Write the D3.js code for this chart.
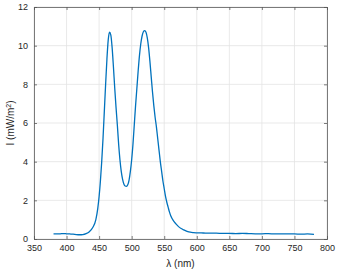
<!DOCTYPE html>
<html>
<head>
<meta charset="utf-8">
<script src="https://cdn.jsdelivr.net/npm/d3@7"></script>
<style>
  body { margin: 0; background: #fff; }
  svg text { font-family: "Liberation Sans", Arial, sans-serif; fill: #262626; }
</style>
</head>
<body>
<div id="canvas"></div>
<script>
// spectrum
var wavelength = [380, 385, 390, 395, 400, 405, 410, 415, 420, 425, 430, 435, 440, 445, 448,
  450, 452, 454, 456, 458, 460, 462, 464, 466, 468, 470, 472, 474, 476, 478, 480, 482, 484,
  486, 488, 490, 492, 494, 496, 498, 500, 502, 504, 506, 508, 510, 512, 514, 516, 518, 520,
  522, 524, 526, 528, 530, 532, 534, 536, 538, 540, 542, 544, 546, 548, 550, 552, 554, 556,
  558, 560, 564, 568, 572, 576, 580, 585, 590, 595, 600, 610, 620, 630, 640, 650, 660, 670,
  680, 690, 700, 710, 720, 730, 740, 750, 760, 770, 780];
var intensity = [0.27, 0.27, 0.27, 0.28, 0.27, 0.26, 0.25, 0.23, 0.22, 0.23, 0.28, 0.38, 0.58, 1.0, 1.6,
  2.2, 3.0, 4.0, 5.2, 6.6, 8.0, 9.3, 10.3, 10.7, 10.55, 9.9, 8.9, 7.8, 6.8, 5.9, 4.9, 4.1, 3.5,
  3.1, 2.85, 2.74, 2.72, 2.8, 3.05, 3.5, 4.1, 4.9, 5.9, 6.9, 7.8, 8.7, 9.5, 10.1, 10.5, 10.72, 10.78,
  10.7, 10.4, 9.9, 9.2, 8.4, 7.6, 6.9, 6.3, 5.8, 5.2, 4.6, 4.0, 3.5, 3.0, 2.6, 2.2, 1.9, 1.65,
  1.4, 1.2, 0.95, 0.78, 0.64, 0.54, 0.47, 0.4, 0.35, 0.33, 0.32, 0.31, 0.3, 0.3, 0.29, 0.29, 0.28, 0.29,
  0.28, 0.27, 0.27, 0.28, 0.26, 0.27, 0.26, 0.26, 0.25, 0.26, 0.24];
var xTicks = [350, 400, 450, 500, 550, 600, 650, 700, 750, 800];
var yTicks = [0, 2, 4, 6, 8, 10, 12];

var W = 337, H = 272;
var m = {t: 7, r: 10, b: 33, l: 34};
var w = W - m.l - m.r, h = H - m.t - m.b;

var svg = d3.select('#canvas').append('svg')
  .attr('width', W).attr('height', H);
var plot = svg.append('g')
  .attr('transform', 'translate(' + m.l + ',' + m.t + ')');

var x = d3.scaleLinear().domain([350, 800]).range([0, w]);
var y = d3.scaleLinear().domain([0, 12]).range([h, 0]);

// grid
plot.append('g').selectAll('line').data(xTicks).enter().append('line')
  .attr('x1', d => x(d)).attr('x2', d => x(d)).attr('y1', 0).attr('y2', h)
  .attr('stroke', '#e3e3e3').attr('stroke-width', 0.8);
plot.append('g').selectAll('line').data(yTicks).enter().append('line')
  .attr('y1', d => y(d)).attr('y2', d => y(d)).attr('x1', 0).attr('x2', w)
  .attr('stroke', '#e3e3e3').attr('stroke-width', 0.8);

// curve
var pts = wavelength.map((d, i) => [d, intensity[i]]);
var line = d3.line()
  .x(d => x(d[0]))
  .y(d => y(d[1]))
  .curve(d3.curveMonotoneX);
plot.append('path')
  .datum(pts)
  .attr('d', line)
  .attr('fill', 'none')
  .attr('stroke', '#0072BD')
  .attr('stroke-width', 1.3);

// axes
var axX = d3.axisBottom(x).tickValues(xTicks).tickSize(-3).tickPadding(6);
var axY = d3.axisLeft(y).tickValues(yTicks).tickSize(-3).tickPadding(6);
var axXt = d3.axisTop(x).tickValues(xTicks).tickSize(-3).tickFormat('');
var axYr = d3.axisRight(y).tickValues(yTicks).tickSize(-3).tickFormat('');

function style(g) {
  g.selectAll('path, line').attr('stroke', '#5a5a5a').attr('stroke-width', 0.8);
  g.selectAll('text').attr('font-size', 9).attr('fill', '#262626')
    .attr('font-family', '"Liberation Sans", Arial, sans-serif');
}
plot.append('g').attr('transform', 'translate(0,' + h + ')').call(axX).call(style);
plot.append('g').call(axY).call(style);
plot.append('g').call(axXt).call(style);
plot.append('g').attr('transform', 'translate(' + w + ',0)').call(axYr).call(style);

// labels
svg.append('text')
  .attr('x', m.l + w / 2).attr('y', 267)
  .attr('text-anchor', 'middle').attr('font-size', 10)
  .text('λ (nm)');

svg.append('text')
  .attr('transform', 'translate(14,' + (m.t + h / 2) + ') rotate(-90)')
  .attr('text-anchor', 'middle').attr('font-size', 10)
  .html('I (mW/m<tspan baseline-shift="super" font-size="7">2</tspan>)');
</script>
</body>
</html>
